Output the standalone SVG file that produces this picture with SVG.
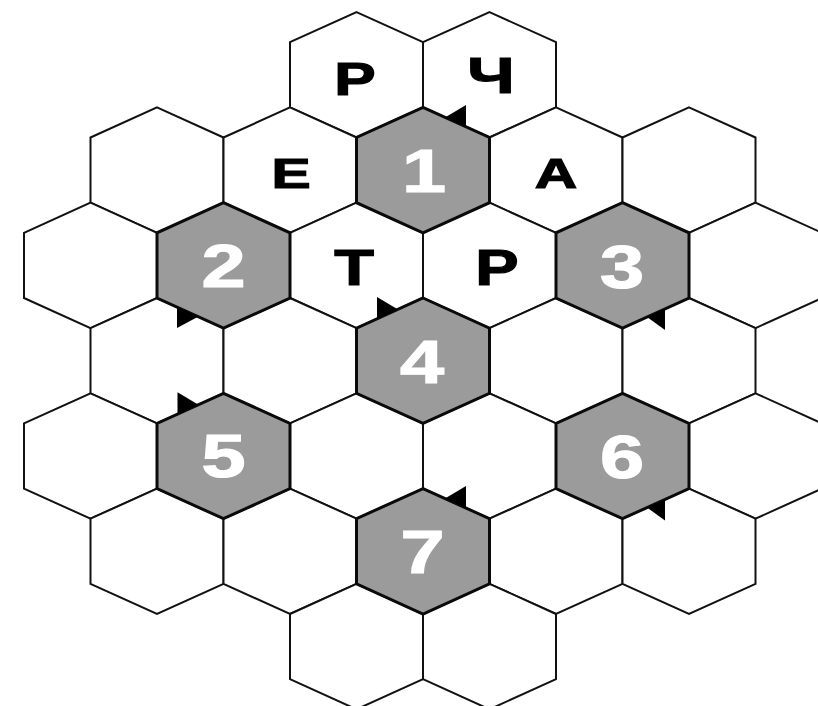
<svg xmlns="http://www.w3.org/2000/svg" xmlns:xlink="http://www.w3.org/1999/xlink" width="818" height="706" viewBox="0 0 818 706">
<style>
.cell{fill:#ffffff;stroke:#111111;stroke-width:2;stroke-linejoin:miter}
.dark{fill:#9b9b9b;stroke:#0a0a0a;stroke-width:3;stroke-linejoin:miter}
.ltr{font-family:"Liberation Sans",Arial,sans-serif;font-weight:bold;font-size:46px;fill:#000000;stroke:#000000;stroke-width:1.2;text-anchor:middle}
.num{font-family:"Liberation Sans",Arial,sans-serif;font-weight:bold;font-size:61px;fill:#ffffff;stroke:#ffffff;stroke-width:1.2;text-anchor:middle}
.tri{fill:#000000;stroke:none}
</style>
<defs>
<polygon id="hex" points="0,-62.7 66.5,-32.6 66.5,32.6 0,62.7 -66.5,32.6 -66.5,-32.6"/>
</defs>
<rect x="0" y="0" width="818" height="706" fill="#ffffff"/>
<g id="grid">
<g id="r0c0"><use xlink:href="#hex" class="cell" x="356.5" y="74.8"/><text class="ltr" transform="translate(355,95) scale(1.35,1)">Р</text></g>
<g id="r0c1"><use xlink:href="#hex" class="cell" x="489.5" y="74.8"/><text class="ltr" transform="translate(491,93) scale(1.35,1)" style="font-size:50px">Ч</text></g>
<g id="r1c0"><use xlink:href="#hex" class="cell" x="157" y="170.1"/></g>
<g id="r1c1"><use xlink:href="#hex" class="cell" x="290" y="170.1"/><text class="ltr" transform="translate(291,188) scale(1.4,1)" style="font-size:42px">Е</text></g>
<g id="r1c3"><use xlink:href="#hex" class="cell" x="556" y="170.1"/><text class="ltr" transform="translate(556,188) scale(1.4,1)" style="font-size:42px">А</text></g>
<g id="r1c4"><use xlink:href="#hex" class="cell" x="689" y="170.1"/></g>
<g id="r2c0"><use xlink:href="#hex" class="cell" x="90.5" y="265.4"/></g>
<g id="r2c2"><use xlink:href="#hex" class="cell" x="356.5" y="265.4"/><text class="ltr" transform="translate(354,285) scale(1.3,1)" style="font-size:50px">Т</text></g>
<g id="r2c3"><use xlink:href="#hex" class="cell" x="489.5" y="265.4"/><text class="ltr" transform="translate(497,285) scale(1.3,1)" style="font-size:50px">Р</text></g>
<g id="r2c5"><use xlink:href="#hex" class="cell" x="755.5" y="265.4"/></g>
<g id="r3c0"><use xlink:href="#hex" class="cell" x="157" y="360.7"/></g>
<g id="r3c1"><use xlink:href="#hex" class="cell" x="290" y="360.7"/></g>
<g id="r3c3"><use xlink:href="#hex" class="cell" x="556" y="360.7"/></g>
<g id="r3c4"><use xlink:href="#hex" class="cell" x="689" y="360.7"/></g>
<g id="r4c0"><use xlink:href="#hex" class="cell" x="90.5" y="456"/></g>
<g id="r4c2"><use xlink:href="#hex" class="cell" x="356.5" y="456"/></g>
<g id="r4c3"><use xlink:href="#hex" class="cell" x="489.5" y="456"/></g>
<g id="r4c5"><use xlink:href="#hex" class="cell" x="755.5" y="456"/></g>
<g id="r5c0"><use xlink:href="#hex" class="cell" x="157" y="551.3"/></g>
<g id="r5c1"><use xlink:href="#hex" class="cell" x="290" y="551.3"/></g>
<g id="r5c3"><use xlink:href="#hex" class="cell" x="556" y="551.3"/></g>
<g id="r5c4"><use xlink:href="#hex" class="cell" x="689" y="551.3"/></g>
<g id="r6c0"><use xlink:href="#hex" class="cell" x="356.5" y="646.6"/></g>
<g id="r6c1"><use xlink:href="#hex" class="cell" x="489.5" y="646.6"/></g>
</g>
<g id="numbered">
<g id="cell1"><use xlink:href="#hex" class="dark" x="423" y="170.1"/><text class="num" transform="translate(424,191.8) scale(1.3,1)">1</text></g>
<g id="cell2"><use xlink:href="#hex" class="dark" x="223.5" y="265.4"/><text class="num" transform="translate(223.5,287) scale(1.3,1)">2</text></g>
<g id="cell3"><use xlink:href="#hex" class="dark" x="622.5" y="265.4"/><text class="num" transform="translate(622,287.5) scale(1.3,1)">3</text></g>
<g id="cell4"><use xlink:href="#hex" class="dark" x="423" y="360.7"/><text class="num" transform="translate(422,382.5) scale(1.3,1)">4</text></g>
<g id="cell5"><use xlink:href="#hex" class="dark" x="223.5" y="456"/><text class="num" transform="translate(223.5,477) scale(1.3,1)">5</text></g>
<g id="cell6"><use xlink:href="#hex" class="dark" x="622.5" y="456"/><text class="num" transform="translate(622,478) scale(1.3,1)">6</text></g>
<g id="cell7"><use xlink:href="#hex" class="dark" x="423" y="551.3"/><text class="num" transform="translate(422.5,573) scale(1.3,1)">7</text></g>
</g>
<g id="connectors">
<polygon class="tri" points="445,117.5 466,127 466,105"/>
<polygon class="tri" points="177,306.5 198.5,316.5 177,328"/>
<polygon class="tri" points="647,317 665,309 665,330"/>
<polygon class="tri" points="377,297 377,319 398,309.5"/>
<polygon class="tri" points="177.5,392.3 177.5,414.3 198.5,404.8"/>
<polygon class="tri" points="647,507.5 665,499.5 665,520.5"/>
<polygon class="tri" points="445,498.5 466,508 466,486"/>
</g>
</svg>
